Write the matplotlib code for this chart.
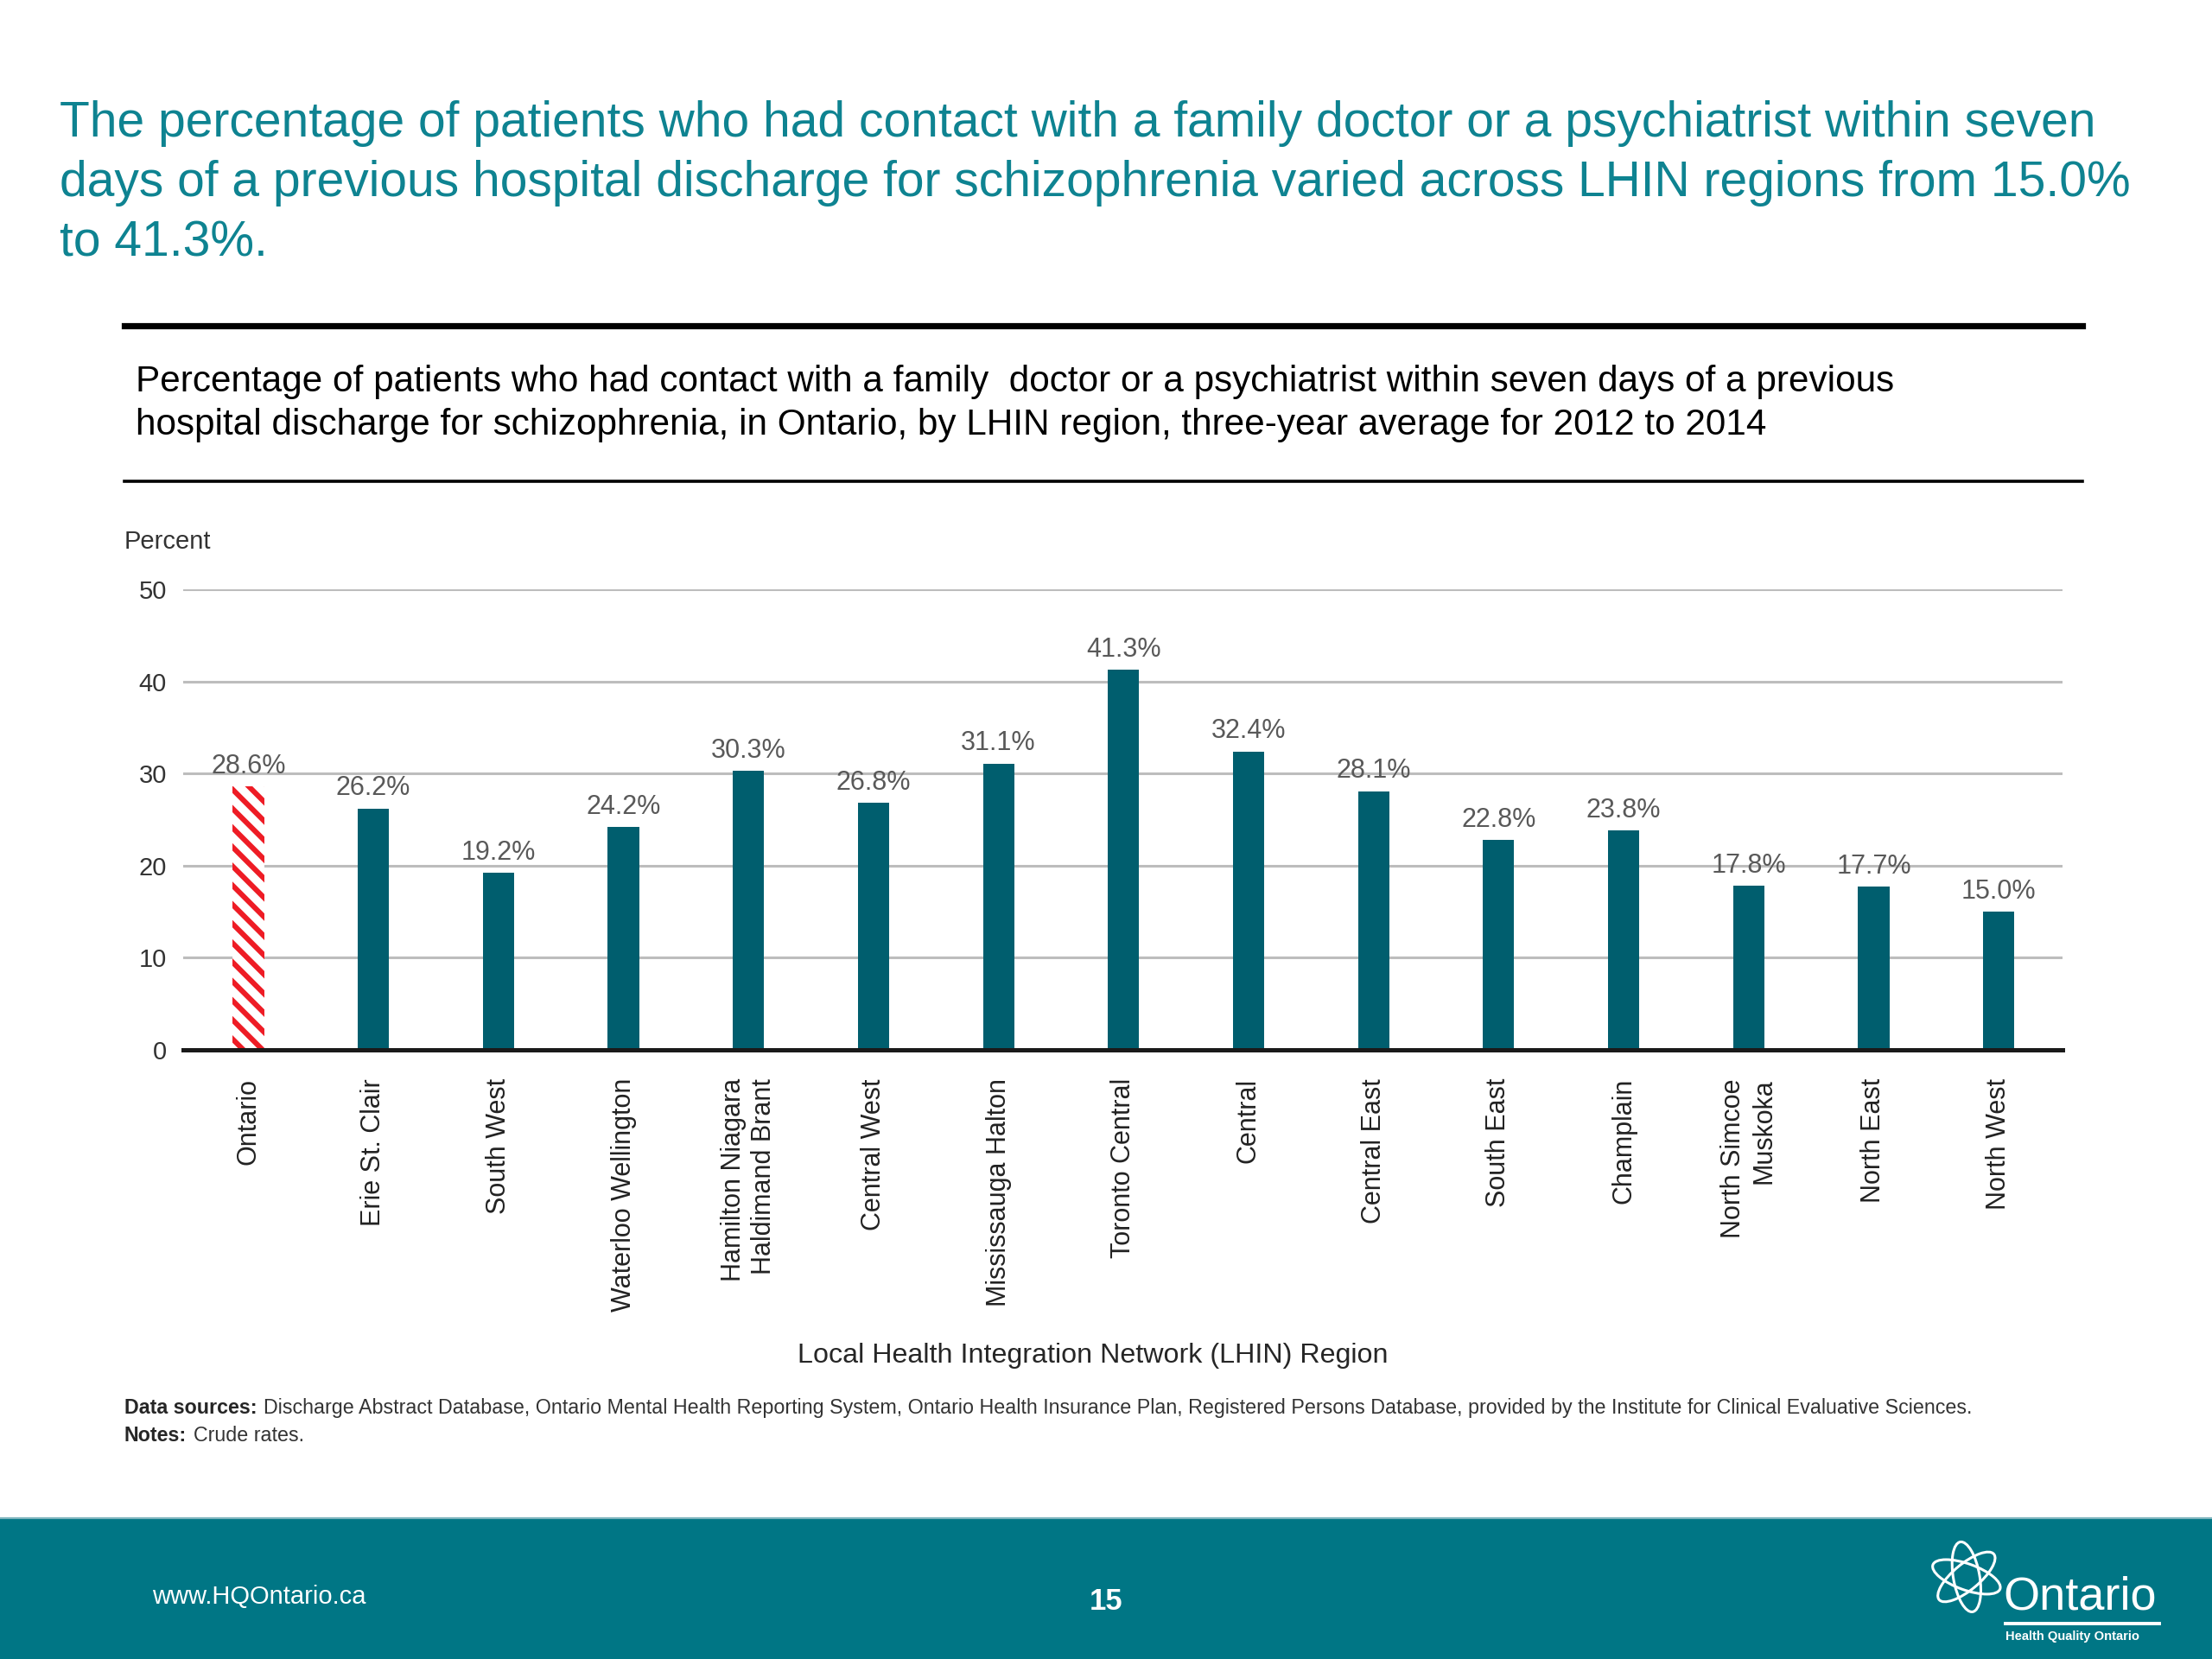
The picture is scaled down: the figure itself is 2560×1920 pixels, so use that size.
import matplotlib
matplotlib.use("Agg")
import matplotlib.pyplot as plt
from matplotlib.patches import Rectangle, Ellipse
from matplotlib.lines import Line2D

plt.rcParams['font.family'] = ['Liberation Sans', 'DejaVu Sans']
plt.rcParams['hatch.linewidth'] = 2.2

# data
regions = ["Ontario", "Erie St. Clair", "South West", "Waterloo Wellington",
           "Hamilton Niagara\nHaldimand Brant", "Central West", "Mississauga Halton",
           "Toronto Central", "Central", "Central East", "South East", "Champlain",
           "North Simcoe\nMuskoka", "North East", "North West"]
values = [28.6, 26.2, 19.2, 24.2, 30.3, 26.8, 31.1, 41.3, 32.4, 28.1,
          22.8, 23.8, 17.8, 17.7, 15.0]
yticks = [0, 10, 20, 30, 40, 50]

title = ("The percentage of patients who had contact with a family doctor or a psychiatrist within seven\n"
         "days of a previous hospital discharge for schizophrenia varied across LHIN regions from 15.0%\n"
         "to 41.3%.")
subtitle = ("Percentage of patients who had contact with a family  doctor or a psychiatrist within seven days of a previous\n"
            "hospital discharge for schizophrenia, in Ontario, by LHIN region, three-year average for 2012 to 2014")
source_txt = ("Discharge Abstract Database, Ontario Mental Health Reporting System, Ontario Health Insurance Plan, "
              "Registered Persons Database, provided by the Institute for Clinical Evaluative Sciences.")

teal_title = '#0E8391'
bar_teal = '#005E6E'
footer_teal = '#007685'
grey_txt = '#595959'

fig = plt.figure(figsize=(12.8, 9.6), dpi=200)
renderer = fig.canvas.get_renderer()

# header text
fig.text(0.027, 0.8896, title, color=teal_title, fontsize=20.5, va='center', ha='left',
         linespacing=1.36)
fig.add_artist(Line2D([0.0561, 0.9413], [0.8036, 0.8036], color='black', lw=2.6))
fig.text(0.0612, 0.757, subtitle, color='black', fontsize=15.2, va='center', ha='left',
         linespacing=1.32)
fig.add_artist(Line2D([0.0561, 0.9413], [0.710, 0.710], color='black', lw=1.3))

# chart
ax = fig.add_axes([0.0829, 0.3673, 0.8495, 0.2773])
x = list(range(len(values)))
colors = ['white'] + [bar_teal] * (len(values) - 1)
bars = ax.bar(x, values, width=0.25, color=colors, linewidth=0, zorder=3)
bars[0].set_edgecolor('#EE1C25')
bars[0].set_hatch('\\\\\\')
bars[0].set_linewidth(0)

for xi, v in zip(x, values):
    ax.annotate(f"{v:.1f}%", (xi, v), xytext=(0, 3), textcoords='offset points',
                ha='center', va='bottom', fontsize=11, color=grey_txt, zorder=4)

ax.set_xlim(-0.52, 14.51)
ax.set_ylim(0, 50)
ax.set_yticks(yticks)
ax.set_yticklabels([str(t) for t in yticks], fontsize=10.5, color='#333333')
ax.yaxis.grid(True, color='#BDBDBD', lw=1.1, zorder=1)
ax.set_axisbelow(True)
ax.tick_params(axis='y', length=0, pad=7)
ax.tick_params(axis='x', length=0, pad=12)
ax.set_xticks(x)
ax.set_xticklabels(regions, rotation=90, ha='center', va='top', ma='right',
                   fontsize=11, color='#222222')
for side in ['left', 'right', 'top']:
    ax.spines[side].set_visible(False)
ax.spines['bottom'].set_color('#1a1a1a')
ax.spines['bottom'].set_linewidth(1.8)
ax.spines['bottom'].set_zorder(5)

fig.text(0.0561, 0.6735, "Percent", fontsize=10.5, color='#333333', va='center', ha='left')
fig.text(0.494, 0.1828, "Local Health Integration Network (LHIN) Region", fontsize=11.6,
         color='#262626', va='center', ha='center')

# sources / notes: bold label followed by plain text
def label_line(y, label, body):
    t = fig.text(0.0561, y, label, fontsize=8.4, fontweight='bold', color='#262626',
                 va='center', ha='left')
    bb = t.get_window_extent(renderer).transformed(fig.transFigure.inverted())
    fig.text(bb.x1 + 0.003, y, body, fontsize=8.4, color='#333333', va='center', ha='left')

label_line(0.1514, "Data sources:", source_txt)
label_line(0.1344, "Notes:", "Crude rates.")

# footer
fig.add_artist(Rectangle((0, 0), 1, 0.085, transform=fig.transFigure, color=footer_teal,
                         zorder=0))
fig.add_artist(Line2D([0, 1], [0.085, 0.085], color='#7FB5BE', lw=0.8))
fig.text(0.0689, 0.0374, "www.HQOntario.ca", color='white', fontsize=10.5, va='center')
fig.text(0.5, 0.0345, "15", color='white', fontsize=12.5, fontweight='bold',
         va='center', ha='center')
fig.text(0.9055, 0.037, "Ontario", color='white', fontsize=19.5, va='center', ha='left')
fig.add_artist(Line2D([0.9065, 0.976], [0.0215, 0.0215], color='white', lw=1.4))
fig.text(0.9065, 0.0135, "Health Quality Ontario", color='white', fontsize=5.3,
         fontweight='bold', va='center', ha='left')

# rough trillium mark
lax = fig.add_axes([0.872, 0.027, 0.034, 0.045])
lax.set_xlim(-1, 1)
lax.set_ylim(-1, 1)
lax.axis('off')
for ang in [100, 220, 340]:
    lax.add_patch(Ellipse((0, 0), 1.9, 0.7, angle=ang, fill=False, ec='white', lw=1.1))

fig.savefig("out.png", dpi=200, facecolor='white')
